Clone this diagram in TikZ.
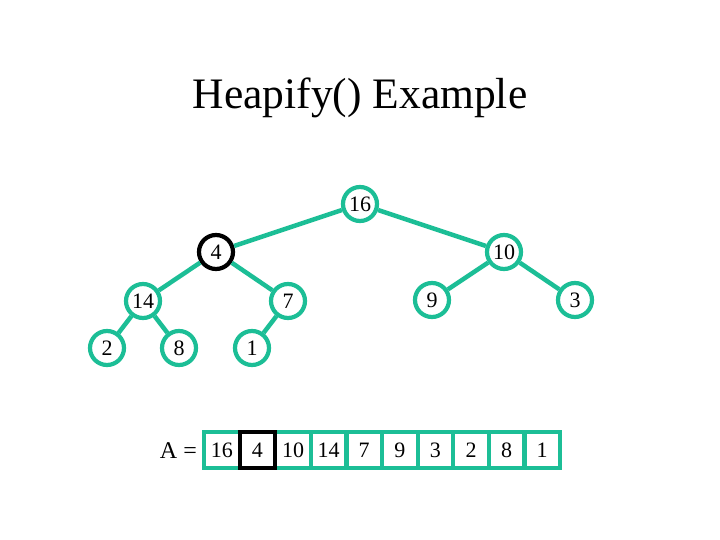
\documentclass[tikz,border=0pt]{standalone}
\usepackage{fontspec}
\setmainfont{Liberation Serif}
\definecolor{heapgreen}{RGB}{28,190,150}
\tikzset{
  hnode/.style={circle, draw=heapgreen, line width=4.2pt, fill=white, minimum size=34pt, inner sep=0pt, font=\fontsize{22}{22}\selectfont},
  hcur/.style={hnode, draw=black},
  hedge/.style={draw=heapgreen, line width=4.5pt},
  cell/.style={rectangle, draw=heapgreen, line width=4.2pt, fill=white, minimum width=35.6pt, minimum height=36pt, inner sep=0pt, font=\fontsize{22}{22}\selectfont},
  ccur/.style={cell, draw=black}
}
\begin{document}
\begin{tikzpicture}[x=1pt,y=-1pt]
\useasboundingbox (0,0) rectangle (720,540);
\node[font=\fontsize{43.5}{43.5}\selectfont] (title) at (360,98) {Heapify() Example};
% tree nodes
\node[hnode] (n16) at (360,204) {16};
\node[hcur] (n4) at (216,252) {4};
\node[hnode] (n10) at (504,252) {10};
\node[hnode] (n14) at (143,301) {14};
\node[hnode] (n7) at (288,301) {7};
\node[hnode] (n9) at (432,300) {9};
\node[hnode] (n3) at (575,300) {3};
\node[hnode] (n2) at (107,348) {2};
\node[hnode] (n8) at (179,348) {8};
\node[hnode] (n1) at (252,348) {1};
% edges
\draw[hedge] (n16) -- (n4);
\draw[hedge] (n16) -- (n10);
\draw[hedge] (n4) -- (n14);
\draw[hedge] (n4) -- (n7);
\draw[hedge] (n10) -- (n9);
\draw[hedge] (n10) -- (n3);
\draw[hedge] (n14) -- (n2);
\draw[hedge] (n14) -- (n8);
\draw[hedge] (n7) -- (n1);
% array
\node[font=\fontsize{24}{24}\selectfont, anchor=east, inner sep=0pt] (alabel) at (197,451) {A =};
\foreach \v [count=\i] in {16,4,10,14,7,9,3,2,8,1} {
  \ifnum\i=2\relax\else
  \node[cell] (c\i) at ({204+35.6*(\i-0.5)},450) {\v};
  \fi
}
\node[ccur] (c2) at ({204+35.6*1.5},450) {4};
\end{tikzpicture}
\end{document}
